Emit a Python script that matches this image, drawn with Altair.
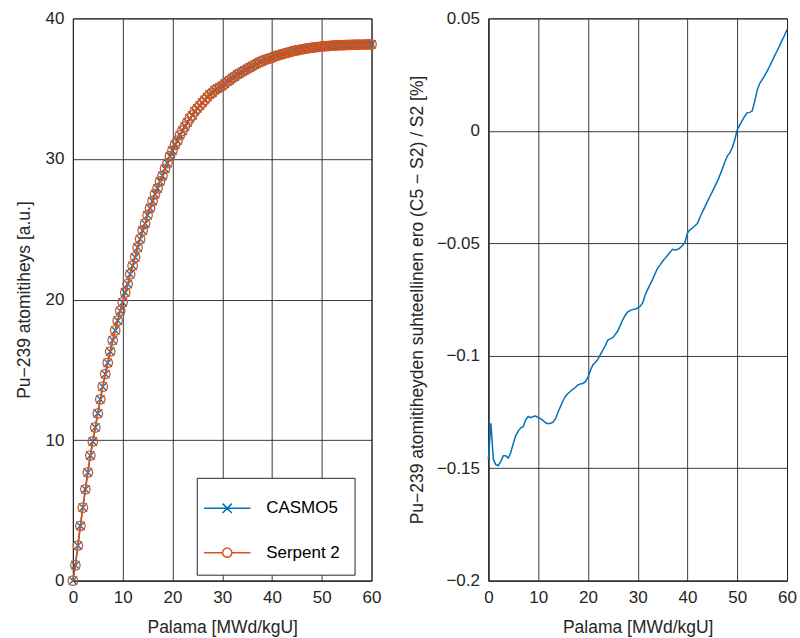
import altair as alt
import pandas as pd

# ---------------- data ----------------
burnup = [0, 0.5, 1, 1.5, 2, 2.5, 3, 3.5, 4, 4.5, 5, 5.5, 6, 6.5, 7, 7.5, 8, 8.5, 9, 9.5,
          10, 10.5, 11, 11.5, 12, 12.5, 13, 13.5, 14, 14.5, 15, 15.5, 16, 16.5, 17, 17.5, 18, 18.5, 19, 19.5,
          20, 20.5, 21, 21.5, 22, 22.5, 23, 23.5, 24, 24.5, 25, 25.5, 26, 26.5, 27, 27.5, 28, 28.5, 29, 29.5,
          30, 30.5, 31, 31.5, 32, 32.5, 33, 33.5, 34, 34.5, 35, 35.5, 36, 36.5, 37, 37.5, 38, 38.5, 39, 39.5,
          40, 40.5, 41, 41.5, 42, 42.5, 43, 43.5, 44, 44.5, 45, 45.5, 46, 46.5, 47, 47.5, 48, 48.5, 49, 49.5,
          50, 50.5, 51, 51.5, 52, 52.5, 53, 53.5, 54, 54.5, 55, 55.5, 56, 56.5, 57, 57.5, 58, 58.5, 59, 59.5, 60]

serpent = [0.0, 1.1, 2.5, 3.9, 5.2, 6.5, 7.7, 8.9, 9.9, 10.9, 11.9, 12.9, 13.8, 14.7, 15.5, 16.3, 17.1, 17.8, 18.5, 19.2,
           19.8, 20.5, 21.1, 21.8, 22.4, 23.0, 23.7, 24.3, 24.9, 25.4, 26.0, 26.5, 27.0, 27.5, 27.9, 28.4, 28.8, 29.3, 29.7, 30.2,
           30.6, 31.0, 31.3, 31.7, 32.0, 32.3, 32.6, 32.9, 33.1, 33.4, 33.6, 33.8, 34.0, 34.2, 34.4, 34.6, 34.7, 34.9, 35.0, 35.1,
           35.2, 35.35, 35.5, 35.6, 35.75, 35.85, 36.0, 36.1, 36.2, 36.3, 36.4, 36.5, 36.6, 36.7, 36.8, 36.9, 36.95, 37.05, 37.1, 37.15,
           37.2, 37.3, 37.35, 37.4, 37.45, 37.5, 37.55, 37.6, 37.65, 37.7, 37.72, 37.76, 37.8, 37.83, 37.86, 37.89, 37.92, 37.94, 37.96, 37.98,
           38.0, 38.02, 38.03, 38.05, 38.06, 38.07, 38.08, 38.09, 38.1, 38.1, 38.11, 38.12, 38.12, 38.13, 38.13, 38.14, 38.14, 38.14, 38.15, 38.15, 38.15]

casmo = [0.0, 1.1, 2.5, 3.9, 5.2, 6.5, 7.7, 8.9, 9.9, 10.9, 11.9, 12.9, 13.8, 14.7, 15.5, 16.3, 17.1, 17.8, 18.5, 19.2,
         19.8, 20.5, 21.1, 21.8, 22.4, 23.0, 23.7, 24.3, 24.9, 25.4, 26.0, 26.5, 27.0, 27.5, 27.9, 28.4, 28.8, 29.3, 29.7, 30.2,
         30.6, 31.0, 31.3, 31.7, 32.0, 32.3, 32.6, 32.9, 33.1, 33.4, 33.6, 33.8, 34.0, 34.2, 34.4, 34.6, 34.7, 34.9, 35.0, 35.1,
         35.2, 35.35, 35.5, 35.6, 35.75, 35.85, 36.0, 36.1, 36.2, 36.3, 36.4, 36.5, 36.6, 36.7, 36.8, 36.9, 36.95, 37.05, 37.1, 37.15,
         37.2, 37.3, 37.35, 37.4, 37.45, 37.5, 37.55, 37.6, 37.65, 37.7, 37.72, 37.76, 37.8, 37.83, 37.86, 37.89, 37.92, 37.94, 37.96, 37.98,
         38.0, 38.02, 38.03, 38.05, 38.06, 38.07, 38.08, 38.09, 38.1, 38.1, 38.11, 38.12, 38.12, 38.13, 38.13, 38.14, 38.14, 38.14, 38.15, 38.15, 38.15]

rel_diff = [-0.146, -0.130, -0.146, -0.1485, -0.1488, -0.147, -0.1445, -0.1445, -0.1455, -0.143,
            -0.139, -0.1355, -0.1335, -0.132, -0.1315, -0.1285, -0.127, -0.1275, -0.127, -0.1268,
            -0.1275, -0.128, -0.1288, -0.1298, -0.1302, -0.130, -0.1295, -0.128, -0.125, -0.1225,
            -0.120, -0.118, -0.1168, -0.1158, -0.1148, -0.114, -0.113, -0.1125, -0.1123, -0.1115,
            -0.1095, -0.1065, -0.104, -0.103, -0.1015, -0.0995, -0.0975, -0.0955, -0.093, -0.0925,
            -0.092, -0.0905, -0.089, -0.0865, -0.084, -0.082, -0.0805, -0.0798, -0.0795, -0.0792,
            -0.0788, -0.078, -0.0765, -0.073, -0.0705, -0.0683, -0.066, -0.0635, -0.061, -0.0597,
            -0.058, -0.0567, -0.0553, -0.054, -0.0527, -0.053, -0.0528, -0.052, -0.051, -0.0495,
            -0.0455, -0.044, -0.0432, -0.0422, -0.0412, -0.0385, -0.036, -0.0338, -0.0315, -0.0292,
            -0.027, -0.0247, -0.0225, -0.0198, -0.017, -0.014, -0.0112, -0.0098, -0.0075, -0.004,
            0.0005, 0.0025, 0.0045, 0.0065, 0.008, 0.0082, 0.0088, 0.013, 0.018, 0.021,
            0.0228, 0.0245, 0.0265, 0.0287, 0.031, 0.0333, 0.0355, 0.0378, 0.0402, 0.0425, 0.045]

series_names = ["CASMO5", "Serpent 2"]
series_colors = ["#0072BD", "#D95319"]
x_ticks = [0, 10, 20, 30, 40, 50, 60]
left_y_ticks = [0, 10, 20, 30, 40]
right_y_ticks = [-0.2, -0.15, -0.1, -0.05, 0, 0.05]

# ---------------- styling ----------------
FONT = "Liberation Sans"
INK = "#262626"
XPATH = "M-1,-1L1,1M-1,1L1,-1"
LEG_X = "M-1.5,0H1.5M-0.3,-0.3L0.3,0.3M-0.3,0.3L0.3,-0.3"
LEG_O = "M-1.5,0H-0.3M0.3,0H1.5M-0.3,0A0.3,0.3,0,1,0,0.3,0A0.3,0.3,0,1,0,-0.3,0"

df_c = pd.DataFrame({"burnup": burnup, "value": casmo, "series": "CASMO5"})
df_s = pd.DataFrame({"burnup": burnup, "value": serpent, "series": "Serpent 2"})
df_all = pd.concat([df_c, df_s], ignore_index=True)
df_r = pd.DataFrame({"burnup": burnup, "diff": rel_diff})

x_enc = alt.X("burnup:Q", scale=alt.Scale(domain=[0, 60], nice=False, zero=False),
              axis=alt.Axis(values=x_ticks, title="Palama [MWd/kgU]", format="d"))
y_left = alt.Y("value:Q", scale=alt.Scale(domain=[0, 40], nice=False),
               axis=alt.Axis(values=left_y_ticks, title="Pu\u2212239 atomitiheys [a.u.]", format="d",
                             titlePadding=12))

c_line = alt.Chart(df_c).mark_line(color=series_colors[0], strokeWidth=1.5).encode(x=x_enc, y=y_left)
c_pts = alt.Chart(df_c).mark_point(shape=XPATH, size=70, color=series_colors[0], filled=False,
                                   strokeWidth=1.3, opacity=1).encode(x=x_enc, y=y_left)
s_line = alt.Chart(df_s).mark_line(color=series_colors[1], strokeWidth=1.5).encode(x=x_enc, y=y_left)
s_pts = alt.Chart(df_s).mark_point(shape="circle", size=90, color=series_colors[1], filled=False,
                                   strokeWidth=1.3, opacity=1).encode(x=x_enc, y=y_left)

leg = alt.Legend(title=None, orient="none", legendX=124, legendY=460, padding=14, rowPadding=19.5,
                 labelOffset=22.5, labelFont=FONT, labelFontSize=17, labelColor="#000000",
                 strokeColor=INK, fillColor="white", symbolSize=961, symbolStrokeWidth=1.5,
                 labelExpr="datum.label + '  '", cornerRadius=0)
legend_layer = alt.Chart(df_all).transform_filter("false").mark_point(filled=False, strokeWidth=1.5, opacity=1).encode(
    x=x_enc, y=y_left,
    color=alt.Color("series:N", scale=alt.Scale(domain=series_names, range=series_colors), legend=leg),
    shape=alt.Shape("series:N", scale=alt.Scale(domain=series_names, range=[LEG_X, LEG_O]), legend=leg),
)

left = alt.layer(c_line, c_pts, s_line, s_pts, legend_layer).properties(width=299, height=563)

y_right = alt.Y("diff:Q", scale=alt.Scale(domain=[-0.2, 0.05], nice=False, zero=False),
                axis=alt.Axis(values=right_y_ticks, format="~g",
                              title="Pu\u2212239 atomitiheyden suhteellinen ero (C5 \u2212 S2) / S2 [%]",
                              titlePadding=10))
right = alt.Chart(df_r).mark_line(color=series_colors[0], strokeWidth=1.5).encode(
    x=x_enc, y=y_right).properties(width=299, height=563)

chart = alt.hconcat(left, right, spacing=117, bounds="flush").properties(
    padding={"left": 14, "top": 8, "right": 3, "bottom": 0},
    background="white",
).configure_view(stroke=INK, strokeWidth=1).configure_axis(
    grid=True, gridColor=INK, gridOpacity=0.9, gridWidth=1,
    domain=True, domainColor=INK, domainWidth=1,
    ticks=False, labelPadding=9, labelFlush=False, labelOverlap=False,
    labelFont=FONT, labelFontSize=17, labelColor=INK,
    titleFont=FONT, titleFontSize=17.5, titleColor=INK, titleFontWeight="normal",
    titlePadding=13,
)

chart.save("out.html", embed_options={"renderer": "svg", "actions": False})
